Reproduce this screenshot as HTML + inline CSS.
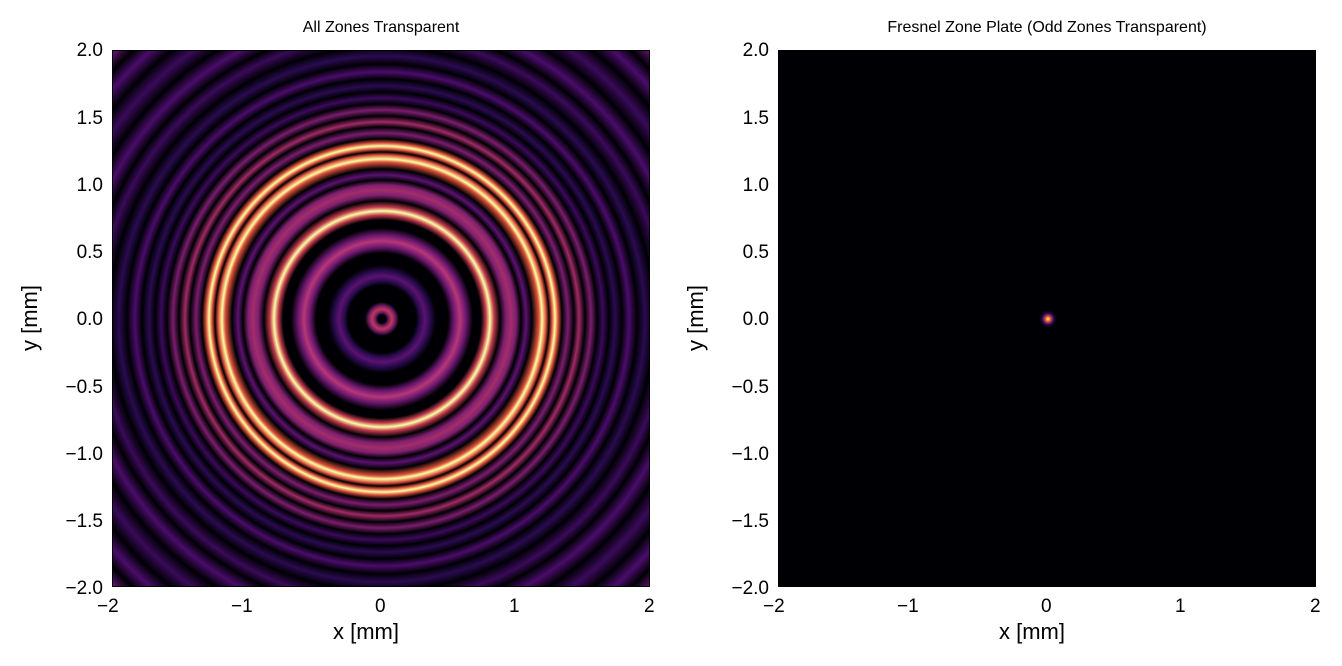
<!DOCTYPE html>
<html><head><style>
body{margin:0;background:#fff;width:1342px;height:666px;position:relative;overflow:hidden;font-family:"Liberation Sans",sans-serif;color:#000}
.ax{position:absolute;top:50px;width:538px;height:537px;border:1px solid #000;box-sizing:border-box}
.t{position:absolute;font-size:19px;line-height:1}
.yl{text-align:right;width:60px}
.title{position:absolute;font-size:16px;top:19px;text-align:center;width:538px}
.lab{position:absolute;font-size:22px}
</style></head><body>
<div class="ax" style="left:112px;background:radial-gradient(circle at 269px 268px,
#000004 0px,#000004 4px,#7a1d6d 7px,#c03a50 10px,#7a1d6d 13px,#000004 17px,#000004 34px,#2a0b50 38px,#5c126e 43px,#2a0b50 48px,#000004 54px,
#000004 66px,#6a176e 72px,#b73779 78px,#6a176e 84px,#000004 91px,
#000004 99px,#c43c4e 104px,#fcffa4 108px,#c43c4e 112px,#000004 118px,#802070 124px,#a32d6a 129px,#802070 134px,#000004 139px,#5c126e 144px,#000004 150px,
#dd513a 157px,#fcffa4 160px,#dd513a 164px,#000004 167px,#dd513a 170px,#fcffa4 173px,#dd513a 176px,#000004 180px,#7a1d6d 186px,#000004 192px,#a02a66 197px,#000004 203px,#7a1d6d 209px,#000004 215px,#3a0a5a 221px,#000004 227px,
#2a0b50 233px,#000004 240px,#4a0c6b 247px,#000004 255px,#2a0b50 263px,#000004 272px,#3a0a5a 283px,#000004 292px,#4a0c6b 303px,#000004 315px,#3a0a5a 328px,#000004 341px,#4a0c6b 354px,#000004 366px,#5c126e 378px,#3a0a5a 390px)"></div>
<div class="ax" style="left:778px;background:radial-gradient(circle at 269px 268px,#fcffa4 0px,#f37819 2px,#932667 4px,#1a0b40 6px,#000004 9px,#000004 100%)"></div>

<div class="title" style="left:112px">All Zones Transparent</div>
<div class="title" style="left:778px">Fresnel Zone Plate (Odd Zones Transparent)</div>

<div class="t yl" style="left:43px;top:41px">2.0</div>
<div class="t yl" style="left:43px;top:109px">1.5</div>
<div class="t yl" style="left:43px;top:176px">1.0</div>
<div class="t yl" style="left:43px;top:243px">0.5</div>
<div class="t yl" style="left:43px;top:310px">0.0</div>
<div class="t yl" style="left:43px;top:378px">−0.5</div>
<div class="t yl" style="left:43px;top:445px">−1.0</div>
<div class="t yl" style="left:43px;top:512px">−1.5</div>
<div class="t yl" style="left:43px;top:579px">−2.0</div>
<div class="t yl" style="left:709px;top:41px">2.0</div>
<div class="t yl" style="left:709px;top:109px">1.5</div>
<div class="t yl" style="left:709px;top:176px">1.0</div>
<div class="t yl" style="left:709px;top:243px">0.5</div>
<div class="t yl" style="left:709px;top:310px">0.0</div>
<div class="t yl" style="left:709px;top:378px">−0.5</div>
<div class="t yl" style="left:709px;top:445px">−1.0</div>
<div class="t yl" style="left:709px;top:512px">−1.5</div>
<div class="t yl" style="left:709px;top:579px">−2.0</div>
<div class="t" style="left:97px;top:597px">−2</div>
<div class="t" style="left:231px;top:597px">−1</div>
<div class="t" style="left:375px;top:597px">0</div>
<div class="t" style="left:509px;top:597px">1</div>
<div class="t" style="left:644px;top:597px">2</div>
<div class="t" style="left:763px;top:597px">−2</div>
<div class="t" style="left:897px;top:597px">−1</div>
<div class="t" style="left:1041px;top:597px">0</div>
<div class="t" style="left:1175px;top:597px">1</div>
<div class="t" style="left:1310px;top:597px">2</div>

<div class="lab" style="left:333px;top:619px">x [mm]</div>
<div class="lab" style="left:999px;top:619px">x [mm]</div>
<div class="lab" style="left:-3px;top:305px;transform:rotate(-90deg)">y [mm]</div>
<div class="lab" style="left:663px;top:305px;transform:rotate(-90deg)">y [mm]</div>
</body></html>
